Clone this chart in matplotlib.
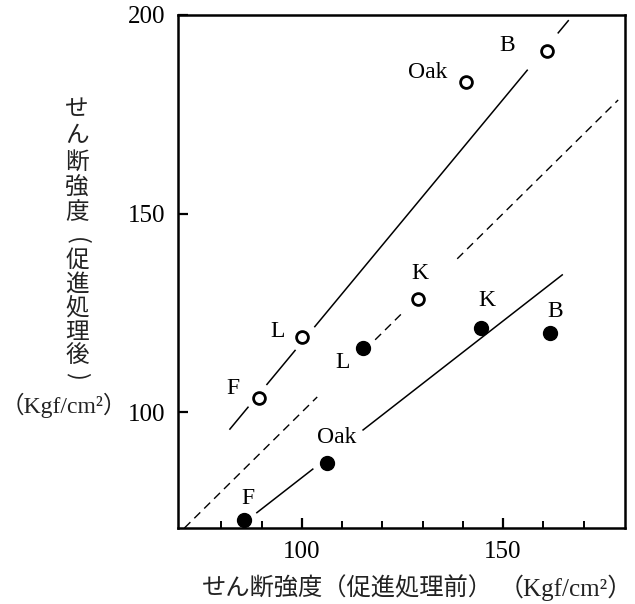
import numpy as np
import matplotlib.pyplot as plt
from matplotlib.ticker import FixedLocator

LATIN = 'Liberation Serif'
CJK = 'Noto Sans CJK JP'
MIXED = [LATIN, CJK]

# shear strength before / after accelerated treatment (Kgf/cm2)
species = ['F', 'L', 'K', 'Oak', 'B']
open_before = [89.3, 100.0, 128.9, 140.8, 160.9]
open_after = [103.5, 118.9, 128.5, 183.1, 190.9]
filled_before = [85.6, 115.2, 144.5, 106.2, 161.7]
filled_after = [72.8, 116.1, 121.2, 87.2, 119.9]
filled_names = ['F', 'L', 'K', 'Oak', 'B']

# label anchor points (data units)
open_label_xy = [(82.8, 106.0), (94.0, 120.2), (129.4, 135.0), (131.3, 185.4), (151.0, 192.2)]
filled_label_xy = [(86.6, 78.3), (110.0, 112.6), (146.0, 128.2), (108.7, 93.7), (162.9, 125.2)]

# fitted lines: slope, intercept and visible x-segments
upper_fit = (1.223, -4.7)
upper_segments = [(82.1, 86.6), (91.3, 98.3), (103.2, 156.0), (163.7, 166.2)]
lower_fit = (0.789, 4.6)
lower_segments = [(88.8, 102.7), (115.2, 164.7)]
# 1:1 reference line segments
equal_segments = [(70.8, 103.8), (118.2, 125.2), (138.6, 178.6)]

fig = plt.figure(figsize=(6.35, 6.04), dpi=100)
W, H = 635, 604
ax = fig.add_axes([178 / W, 1 - 528 / H, (625 - 178) / W, (528 - 15) / H])
ax.set_xlim(69.2, 180.3)
ax.set_ylim(70.8, 200)

for a, b in equal_segments:
    xs = np.array([a, b])
    ax.plot(xs, xs, color='black', lw=1.0, dashes=(6, 4))

for (a, b) in upper_segments:
    xs = np.array([a, b])
    ax.plot(xs, upper_fit[0] * xs + upper_fit[1], color='black', lw=1.1)
for (a, b) in lower_segments:
    xs = np.array([a, b])
    ax.plot(xs, lower_fit[0] * xs + lower_fit[1], color='black', lw=1.1)

ax.plot(open_before, open_after, 'o', ms=8.5, mfc='white', mec='black', mew=2.0,
        linestyle='none', zorder=5)
ax.plot(filled_before, filled_after, 'o', ms=10, mfc='black', mec='black',
        linestyle='none', zorder=5)

for name, (lx, ly) in zip(species, open_label_xy):
    ax.text(lx, ly, name, fontsize=17, family=LATIN, ha='center', va='center')
for name, (lx, ly) in zip(filled_names, filled_label_xy):
    ax.text(lx, ly, name, fontsize=17, family=LATIN, ha='center', va='center')

for side in ax.spines.values():
    side.set_linewidth(1.8)

ax.xaxis.set_major_locator(FixedLocator([100, 150]))
ax.xaxis.set_minor_locator(FixedLocator([80, 90, 110, 120, 130, 140, 160, 170]))
ax.yaxis.set_major_locator(FixedLocator([100, 150, 200]))
ax.tick_params(which='major', direction='in', length=7, width=1.6, labelsize=18, pad=9)
ax.tick_params(which='minor', direction='in', length=5, width=1.4)
for lab in ax.get_xticklabels() + ax.get_yticklabels():
    lab.set_family(LATIN)

# vertical y-axis title, one character per row; brackets drawn turned sideways
ylab_chars = ['せ', 'ん', '断', '強', '度', '(', '促', '進', '処', '理', '後', ')']
ylab_rows = [110, 136, 162, 188, 213, 241, 260, 284, 308, 332, 356, 376]
for ch, py in zip(ylab_chars, ylab_rows):
    turn = -90 if ch in '()' else 0
    fig.text(77 / W, 1 - py / H, ch, fontsize=17, family=CJK, ha='center', va='center',
             rotation=turn, color='#222222')
fig.text(64 / W, 1 - 405 / H, '（Kgf/cm²）', fontsize=17, family=MIXED,
         ha='center', va='center', color='#222222')

# x-axis title and its unit
fig.text(202 / W, 1 - 588 / H, 'せん断強度（促進処理前）', fontsize=17.5,
         family=CJK, ha='left', va='center', color='#222222')
fig.text(566 / W, 1 - 588 / H, '（Kgf/cm²）', fontsize=18,
         family=MIXED, ha='center', va='center', color='#222222')

fig.savefig('out.png', dpi=100, facecolor='white')
